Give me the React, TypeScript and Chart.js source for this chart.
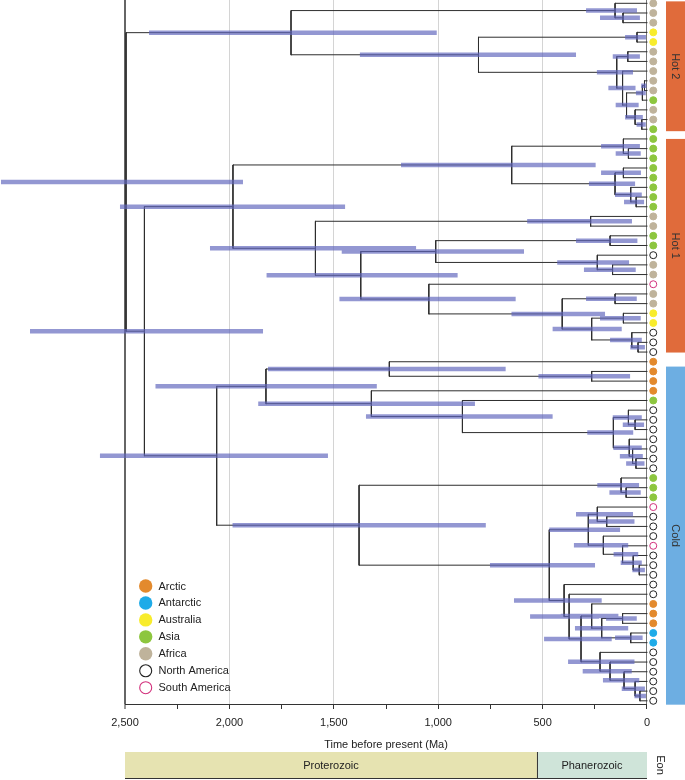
import { useEffect, useRef } from 'react';
import { Chart, registerables } from 'chart.js';

Chart.register(...registerables);

const FONT = 'Liberation Sans, Arial, Helvetica, sans-serif';

// ---------- data ----------
// region of each tip, top to bottom (73 tips)
const TIP_REGION = [
  'Af', 'Af', 'Af', 'Au', 'Au', 'Af', 'Af', 'Af', 'Af', 'Af', 'As', 'Af', 'Af', 'As',
  'As', 'As', 'As', 'As', 'As', 'As', 'As', 'As', 'Af', 'Af', 'As', 'As', 'NA', 'Af', 'Af', 'SA', 'Af', 'Af', 'Au', 'Au', 'NA', 'NA', 'NA',
  'Ar', 'Ar', 'Ar', 'Ar', 'As', 'NA', 'NA', 'NA', 'NA', 'NA', 'NA', 'NA', 'As', 'As', 'As', 'SA', 'NA', 'NA', 'NA', 'SA',
  'NA', 'NA', 'NA', 'NA', 'NA', 'Ar', 'Ar', 'Ar', 'An', 'An', 'NA', 'NA', 'NA', 'NA', 'NA', 'NA',
];

const REGION_CODES = ['Ar', 'An', 'Au', 'As', 'Af', 'NA', 'SA'];
const REGION_LABELS = ['Arctic', 'Antarctic', 'Australia', 'Asia', 'Africa', 'North America', 'South America'];
const REGION_FILL = ['#E38A2D', '#1EABE8', '#F8EC2C', '#8DC63F', '#BFB39B', '#FFFFFF', '#FFFFFF'];
const REGION_STROKE = ['#E38A2D', '#1EABE8', '#F8EC2C', '#8DC63F', '#BFB39B', '#222222', '#D2307C'];

// internal nodes: children (tip numbers or node names), age (Ma), 95% HPD (Ma)
const NODE_NAMES = [
  'root', 'r2', 'h2', 'h2a', 'h2a1', 'h2b', 'h2b1', 'h2c', 'h2c1', 'h2d', 'h2e', 'h2f', 'h2f1', 'h2g', 'h2g1',
  'h1', 'h1a', 'h1a1', 'h1a1b', 'h1a2', 'h1a2a', 'h1a2b', 'h1a2c', 'p', 'p1', 'q', 's', 's1', 's2', 's2b',
  't', 'u', 'u1', 'v', 'v1', 'w', 'w1',
  'k', 'k1', 'x', 'x1', 'y', 'z', 'aa', 'aa1', 'aa1b', 'aa2', 'aa2b', 'aa2c',
  'k2', 'k2a', 'k2a1', 'k3', 'k4', 'l1', 'l1a', 'l2', 'l2a', 'l2b', 'l2c',
  'k5', 'k6', 'k7', 'k8', 'k8a', 'k8b', 'k8c', 'k9', 'k9a', 'k9b', 'k9c', 'k9d',
];
const NODE_CHILDREN: (string | number)[][] = [
  ['h2', 'r2'], ['h1', 'k'], ['h2a', 'h2b'], [1, 'h2a1'], [2, 3], ['h2b1', 'h2c'], [4, 5], ['h2c1', 'h2d'], [6, 7],
  [8, 'h2e'], ['h2f', 'h2g'], ['h2f1', 11], [9, 10], [12, 'h2g1'], [13, 14],
  ['h1a', 'p'], ['h1a1', 'h1a2'], [15, 'h1a1b'], [16, 17], ['h1a2a', 'h1a2b'], [18, 19], [20, 'h1a2c'], [21, 22],
  ['p1', 'q'], [23, 24], ['s', 't'], ['s1', 's2'], [25, 26], [27, 's2b'], [28, 29],
  [30, 'u'], ['u1', 'v'], [31, 32], ['v1', 'w'], [33, 34], [35, 'w1'], [36, 37],
  ['k1', 'k2'], ['x', 'y'], [38, 'x1'], [39, 40], [41, 'z'], [42, 'aa'], ['aa1', 'aa2'], [43, 'aa1b'], [44, 45],
  [46, 'aa2b'], [47, 'aa2c'], [48, 49],
  ['k2a', 'k3'], [50, 'k2a1'], [51, 52], ['k4', 'k5'], ['l1', 'l2'], [53, 'l1a'], [54, 55], [56, 'l2a'], [57, 'l2b'],
  [58, 'l2c'], [59, 60],
  [61, 'k6'], [62, 'k7'], ['k8', 'k9'], [63, 'k8a'], ['k8b', 'k8c'], [64, 65], [66, 67], [68, 'k9a'], [69, 'k9b'],
  [70, 'k9c'], [71, 'k9d'], [72, 73],
];
const NODE_AGE = [
  2495, 2407, 1705, 153, 115, 807, 48, 145, 92, 117, 98, 22, 12, 57, 25,
  1983, 648, 113, 89, 153, 113, 78, 52, 1588, 270, 1371, 1012, 177, 238, 165,
  1045, 406, 153, 265, 113, 73, 43,
  2061, 1825, 1234, 265, 1320, 884, 161, 89, 57, 85, 69, 53,
  1379, 124, 100, 468, 281, 238, 193, 209, 117, 66, 37,
  397, 373, 316, 265, 217, 117, 78, 225, 177, 110, 57, 34,
];
const NODE_HPD_OLD = [
  3094, 2955, 2385, 292, 225, 1375, 105, 240, 164, 185, 150, 53, 28, 105, 50,
  2524, 1178, 220, 150, 278, 220, 153, 110, 2093, 574, 1822, 1462, 340, 430, 302,
  1473, 649, 292, 452, 225, 177, 80,
  2620, 2354, 1815, 520, 1862, 1346, 286, 164, 116, 161, 130, 100,
  1985, 238, 180, 752, 468, 340, 280, 350, 160, 126, 70,
  637, 560, 493, 413, 345, 196, 153, 378, 308, 211, 121, 60,
];
const NODE_HPD_YOUNG = [
  1935, 1839, 1007, 48, 34, 340, 5, 67, 34, 55, 40, 6, 3, 20, 6,
  1446, 246, 34, 30, 57, 29, 25, 14, 1106, 72, 907, 589, 46, 86, 54,
  629, 201, 49, 121, 30, 25, 10,
  1528, 1294, 677, 81, 824, 452, 66, 25, 14, 25, 20, 12,
  772, 38, 30, 249, 129, 67, 60, 90, 42, 25, 10,
  217, 230, 169, 137, 90, 49, 21, 60, 73, 37, 10, 5,
];

const X_TICKS = [2500, 2250, 2000, 1750, 1500, 1250, 1000, 750, 500, 250, 0];

const GROUP_LABELS = ['Hot 2', 'Hot 1', 'Cold'];
const GROUP_TOP = [0.8, 15.0, 38.5];
const GROUP_BOTTOM = [14.2, 37.05, 73.4];
const GROUP_COLORS = ['#E06B3B', '#E06B3B', '#6DAEE2'];

const EON_NAMES = ['Proterozoic', 'Phanerozoic'];
const EON_FROM = [2500, 527];
const EON_TO = [527, 0];
const EON_COLORS = ['#E6E3B1', '#CFE4D9'];

// ---------- derived ----------
const nodeIndex = new Map(NODE_NAMES.map((n, i) => [n, i] as [string, number]));
function nodeY(c: string | number): number {
  if (typeof c === 'number') return c;
  const kids = NODE_CHILDREN[nodeIndex.get(c)!];
  return kids.reduce((s: number, k) => s + nodeY(k), 0) / kids.length;
}
function nodeAge(c: string | number): number {
  return typeof c === 'number' ? 0 : NODE_AGE[nodeIndex.get(c)!];
}

type P = { x: number; y: number | null };
const treeSegs: P[] = [];
const hpdSegs: P[] = [];
NODE_NAMES.forEach((name, i) => {
  const age = NODE_AGE[i];
  const kids = NODE_CHILDREN[i];
  const ys = kids.map(nodeY);
  treeSegs.push({ x: age, y: Math.min(...ys) }, { x: age, y: Math.max(...ys) }, { x: age, y: null });
  kids.forEach((k, j) => {
    treeSegs.push({ x: age, y: ys[j] }, { x: nodeAge(k), y: ys[j] }, { x: age, y: null });
  });
  const ny = nodeY(name);
  hpdSegs.push({ x: NODE_HPD_OLD[i], y: ny }, { x: NODE_HPD_YOUNG[i], y: ny }, { x: 0, y: null });
});

const TIP_GAP = 30; // Ma between branch end and tip symbol
const tipPoints = TIP_REGION.map((_, i) => ({ x: -TIP_GAP, y: i + 1 }));
const tipFill = TIP_REGION.map((r) => REGION_FILL[REGION_CODES.indexOf(r)]);
const tipStroke = TIP_REGION.map((r) => REGION_STROKE[REGION_CODES.indexOf(r)]);

const overlay = {
  id: 'overlay',
  afterDraw(chart: any) {
    const { ctx, chartArea } = chart;
    const x = chart.scales.x;
    const y = chart.scales.y;
    ctx.save();
    // axis line
    ctx.strokeStyle = '#333';
    ctx.lineWidth = 1;
    ctx.beginPath();
    ctx.moveTo(x.getPixelForValue(2500), chartArea.bottom + 0.5);
    ctx.lineTo(x.getPixelForValue(0), chartArea.bottom + 0.5);
    ctx.stroke();

    // group strips
    const bx0 = x.getPixelForValue(-91);
    const bx1 = chartArea.right;
    GROUP_LABELS.forEach((g, i) => {
      const y0 = y.getPixelForValue(GROUP_TOP[i]);
      const y1 = y.getPixelForValue(GROUP_BOTTOM[i]);
      ctx.fillStyle = GROUP_COLORS[i];
      ctx.fillRect(bx0, y0, bx1 - bx0, y1 - y0);
      ctx.save();
      ctx.translate((bx0 + bx1) / 2, (y0 + y1) / 2);
      ctx.rotate(Math.PI / 2);
      ctx.fillStyle = '#333';
      ctx.font = `11px ${FONT}`;
      ctx.textAlign = 'center';
      ctx.textBaseline = 'middle';
      ctx.fillText(g, 0, 0);
      ctx.restore();
    });

    // legend
    ctx.font = `11px ${FONT}`;
    ctx.textBaseline = 'middle';
    ctx.textAlign = 'left';
    REGION_LABELS.forEach((lab, i) => {
      const cy = 586 + i * 16.95;
      ctx.beginPath();
      ctx.arc(145.7, cy, REGION_FILL[i] === '#FFFFFF' ? 6 : 6.7, 0, Math.PI * 2);
      ctx.fillStyle = REGION_FILL[i];
      ctx.fill();
      if (REGION_FILL[i] === '#FFFFFF') {
        ctx.strokeStyle = REGION_STROKE[i];
        ctx.lineWidth = 1.1;
        ctx.stroke();
      }
      ctx.fillStyle = '#222';
      ctx.fillText(lab, 158.5, cy + 0.5);
    });

    // axis title
    ctx.textAlign = 'center';
    ctx.fillStyle = '#222';
    ctx.fillText('Time before present (Ma)', x.getPixelForValue(1250), 745);

    // eon strip
    const ey0 = 752;
    const ey1 = 778;
    EON_NAMES.forEach((n, i) => {
      const a = x.getPixelForValue(EON_FROM[i]);
      const b = x.getPixelForValue(EON_TO[i]);
      ctx.fillStyle = EON_COLORS[i];
      ctx.fillRect(a, ey0, b - a, ey1 - ey0);
      ctx.fillStyle = '#222';
      ctx.fillText(n, (a + b) / 2, (ey0 + ey1) / 2 + 0.5);
    });
    ctx.strokeStyle = '#333';
    ctx.lineWidth = 1;
    ctx.beginPath();
    const div = x.getPixelForValue(EON_TO[0]);
    ctx.moveTo(div + 0.5, ey0);
    ctx.lineTo(div + 0.5, ey1);
    ctx.moveTo(x.getPixelForValue(2500), ey1 + 0.5);
    ctx.lineTo(x.getPixelForValue(0), ey1 + 0.5);
    ctx.stroke();
    ctx.save();
    ctx.translate(660, 765);
    ctx.rotate(Math.PI / 2);
    ctx.fillStyle = '#222';
    ctx.fillText('Eon', 0, 0);
    ctx.restore();
    ctx.restore();
  },
};

export default function App() {
  const ref = useRef<HTMLCanvasElement>(null);
  useEffect(() => {
    if (!ref.current) return;
    const chart = new Chart(ref.current, {
      type: 'scatter',
      data: {
        datasets: [
          {
            data: treeSegs as any,
            showLine: true,
            borderColor: '#2e2e2e',
            borderWidth: 1,
            pointRadius: 0,
            spanGaps: false,
            borderCapStyle: 'square',
            order: 3,
          } as any,
          {
            data: hpdSegs as any,
            showLine: true,
            borderColor: 'rgba(96,102,188,0.68)',
            borderWidth: 4.5,
            pointRadius: 0,
            spanGaps: false,
            borderCapStyle: 'butt',
            order: 2,
            clip: false,
          } as any,
          {
            data: tipPoints,
            pointRadius: 3.5,
            pointBackgroundColor: tipFill,
            pointBorderColor: tipStroke,
            pointBorderWidth: 1,
            order: 1,
            clip: false,
          } as any,
        ],
      },
      options: {
        responsive: false,
        animation: false,
        events: [],
        layout: { padding: 0, autoPadding: false },
        plugins: { legend: { display: false }, tooltip: { enabled: false } },
        scales: {
          x: {
            type: 'linear',
            reverse: true,
            min: -182,
            max: 3098.7,
            afterBuildTicks: (s: any) => {
              s.ticks = X_TICKS.map((v) => ({ value: v }));
            },
            afterFit: (s: any) => {
              s.height = 76;
              s.paddingLeft = 0;
              s.paddingRight = 0;
            },
            border: { display: false },
            grid: {
              color: (c: any) => {
                const v = c.tick?.value;
                if (v === 2500) return '#666';
                if (v === 0) return '#777';
                return v % 500 === 0 ? '#d4d4d4' : 'rgba(0,0,0,0)';
              },
              lineWidth: (c: any) => (c.tick?.value === 2500 ? 2 : 1),
              tickColor: '#333',
              tickWidth: 1,
              tickLength: 5,
            },
            ticks: {
              autoSkip: false,
              maxRotation: 0,
              padding: 7,
              color: '#222',
              font: { family: FONT, size: 11 },
              callback: (v: any) => (Number(v) % 500 === 0 ? Number(v).toLocaleString('en-US') : ''),
            },
          },
          y: {
            type: 'linear',
            display: false,
            reverse: true,
            min: 0.659,
            max: 73.33,
          },
        },
      },
      plugins: [overlay],
    } as any);
    return () => chart.destroy();
  }, []);
  return (
    <div style={{ position: 'absolute', left: 0, top: 0, width: 685, height: 780, background: '#fff' }}>
      <canvas ref={ref} width={685} height={780} style={{ display: 'block' }} />
    </div>
  );
}
